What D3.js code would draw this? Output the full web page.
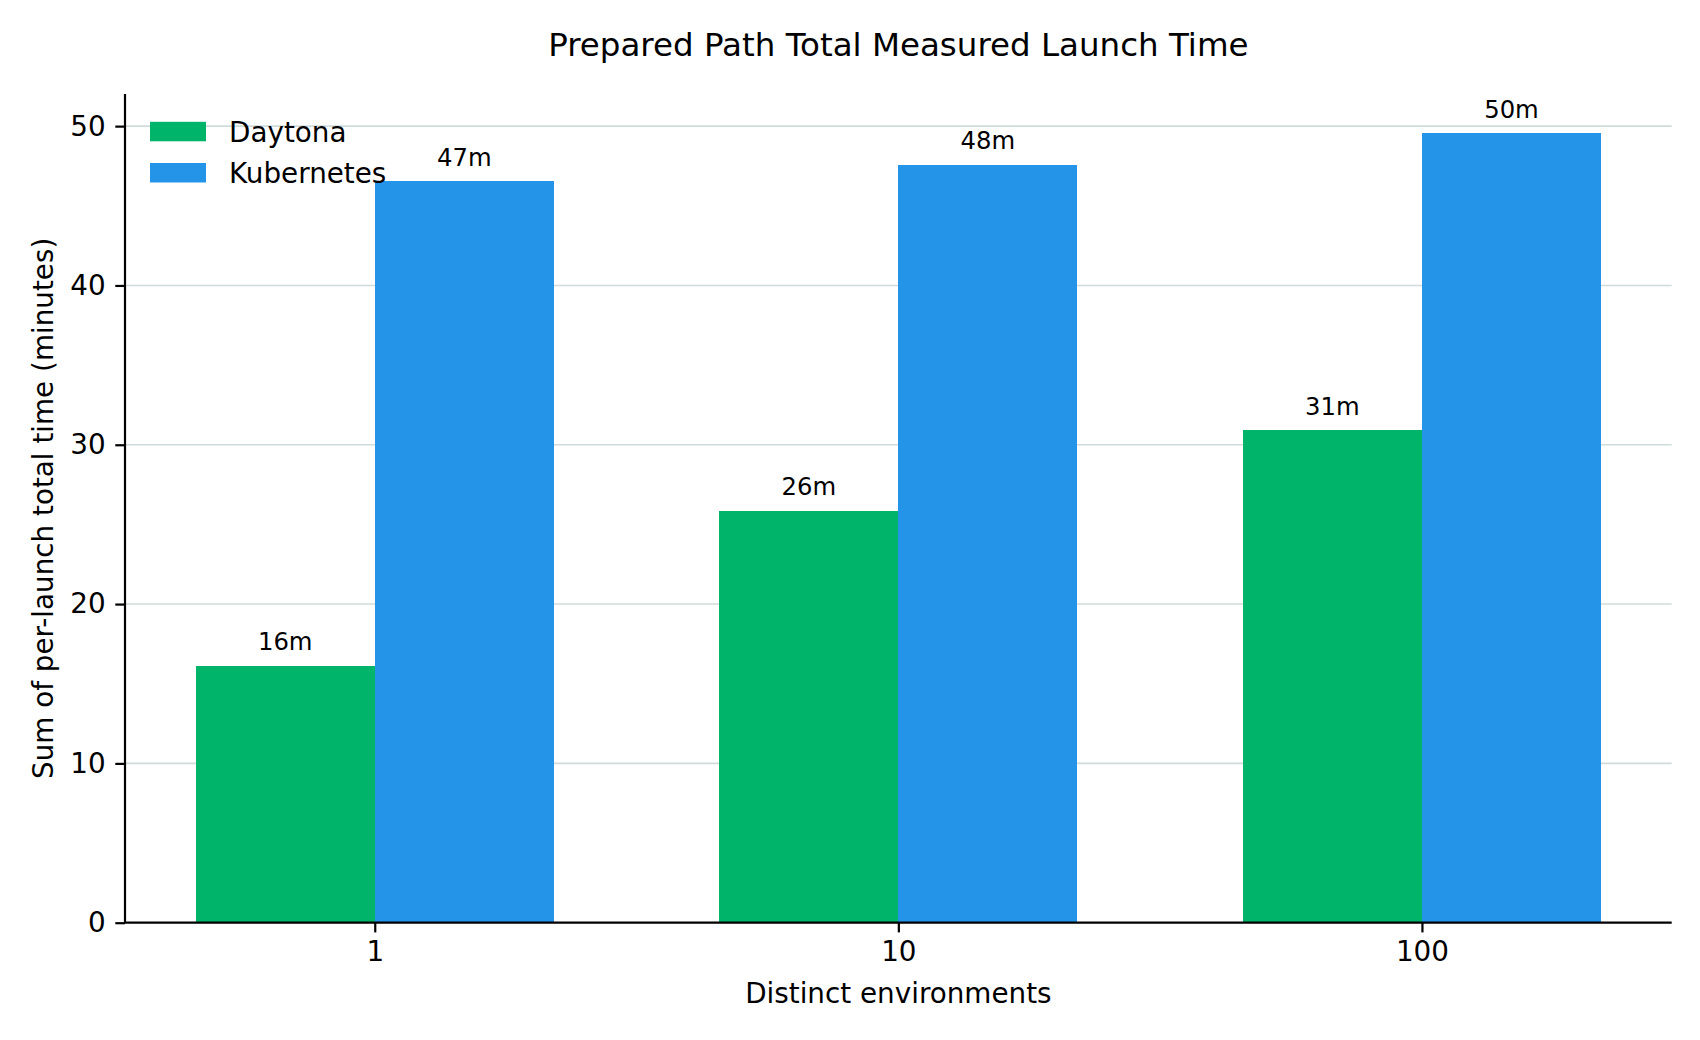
<!DOCTYPE html>
<html>
<head>
<meta charset="utf-8">
<script src="https://cdn.jsdelivr.net/npm/d3@7"></script>
<style>
  html, body { margin: 0; padding: 0; background: #fff; }
  svg text { font-family: "DejaVu Sans", sans-serif; fill: #000; }
</style>
</head>
<body>
<div id="chart"></div>
<script>
// categories + series (minutes)
const categories = ["1", "10", "100"];
const seriesNames = ["Daytona", "Kubernetes"];
const daytona = [16.12, 25.86, 30.92];
const kubernetes = [46.53, 47.59, 49.54];
const yTicks = [0, 10, 20, 30, 40, 50];

const colors = { Daytona: "#00b56a", Kubernetes: "#2394e8" };

const W = 1700, H = 1040;
const plot = { left: 125, right: 1671.7, top: 94, bottom: 922.7 };
const barW = 0.342;

const svg = d3.select("#chart")
    .append("svg")
    .attr("width", W)
    .attr("height", H);

// x is a continuous scale over the category index, like matplotlib's bar positions
const xScale = d3.scaleLinear()
    .domain([-0.477, categories.length - 1 + 0.477])
    .range([plot.left, plot.right]);

const yScale = d3.scaleLinear()
    .domain([0, d3.max(kubernetes.concat(daytona)) * 1.05])
    .range([plot.bottom, plot.top]);

// grid lines (behind bars)
svg.append("g")
    .selectAll("line")
    .data(yTicks.filter(d => d > 0))
    .enter()
    .append("line")
    .attr("x1", plot.left)
    .attr("x2", plot.right)
    .attr("y1", d => yScale(d))
    .attr("y2", d => yScale(d))
    .attr("stroke", "#d0dbdb")
    .attr("stroke-width", 1.6);

// bars
const series = [
    { name: "Daytona", values: daytona, offset: -barW },
    { name: "Kubernetes", values: kubernetes, offset: 0 }
];

series.forEach(s => {
    const g = svg.append("g");
    g.selectAll("rect")
        .data(s.values)
        .enter()
        .append("rect")
        .attr("x", (d, i) => xScale(i + s.offset))
        .attr("width", xScale(barW) - xScale(0))
        .attr("y", d => yScale(d))
        .attr("height", d => yScale(0) - yScale(d))
        .attr("shape-rendering", "crispEdges")
        .attr("fill", colors[s.name]);

    // value labels
    g.selectAll("text")
        .data(s.values)
        .enter()
        .append("text")
        .attr("x", (d, i) => xScale(i + s.offset + barW / 2))
        .attr("y", d => yScale(d) - 15.5)
        .attr("text-anchor", "middle")
        .style("font-size", "24.3px")
        .text(d => Math.round(d) + "m");
});

// axes
const yAxis = svg.append("g")
    .attr("transform", `translate(${plot.left},0)`)
    .call(d3.axisLeft(yScale).tickValues(yTicks).tickSize(9.7).tickPadding(9.7));

const xAxis = svg.append("g")
    .attr("transform", `translate(0,${plot.bottom})`)
    .call(d3.axisBottom(xScale)
        .tickValues(d3.range(categories.length))
        .tickFormat(i => categories[i])
        .tickSize(9.7)
        .tickPadding(9));

[xAxis, yAxis].forEach(a => {
    a.select(".domain").attr("stroke", "#000").attr("stroke-width", 2.2);
    a.selectAll(".tick line").attr("stroke", "#000").attr("stroke-width", 2.2);
    a.selectAll(".tick text")
        .style("font-family", "DejaVu Sans")
        .style("font-size", "27.8px")
        .attr("fill", "#000");
});
// matplotlib spines have no end caps like d3's outer ticks
xAxis.select(".domain").attr("d", `M${plot.left},0H${plot.right}`);
yAxis.select(".domain").attr("d", `M0,${plot.top}V${plot.bottom}`);

// title + axis labels
svg.append("text")
    .attr("x", (plot.left + plot.right) / 2)
    .attr("y", 56)
    .attr("text-anchor", "middle")
    .style("font-size", "32.5px")
    .text("Prepared Path Total Measured Launch Time");

svg.append("text")
    .attr("x", (plot.left + plot.right) / 2)
    .attr("y", 1003)
    .attr("text-anchor", "middle")
    .style("font-size", "27.8px")
    .text("Distinct environments");

svg.append("text")
    .attr("transform", `translate(53,${(plot.top + plot.bottom) / 2}) rotate(-90)`)
    .attr("text-anchor", "middle")
    .style("font-size", "27.8px")
    .text("Sum of per-launch total time (minutes)");

// legend (no frame)
const legend = svg.append("g")
    .attr("transform", "translate(150,131.5)");
const items = legend.selectAll("g")
    .data(seriesNames)
    .enter()
    .append("g")
    .attr("transform", (d, i) => `translate(0,${i * 41.2})`);
items.append("rect")
    .attr("x", 0)
    .attr("y", -9.7)
    .attr("width", 56)
    .attr("height", 19.5)
    .attr("fill", d => colors[d]);
items.append("text")
    .attr("x", 79)
    .attr("y", 0)
    .attr("dy", "0.36em")
    .style("font-size", "27.8px")
    .text(d => d);
</script>
</body>
</html>
